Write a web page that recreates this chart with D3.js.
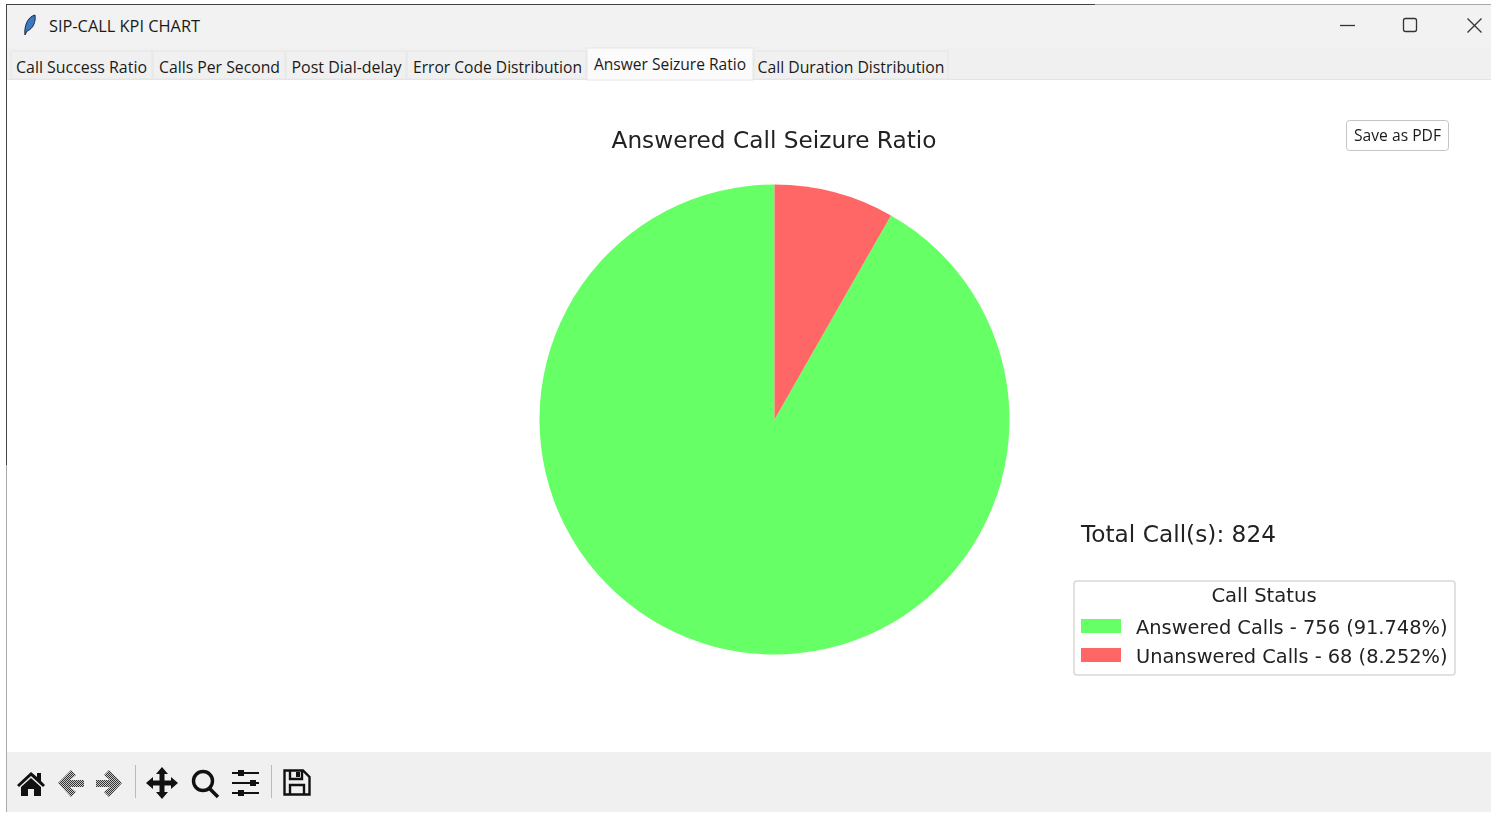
<!DOCTYPE html>
<html>
<head>
<meta charset="utf-8">
<script src="https://cdn.jsdelivr.net/npm/d3@7"></script>
<style>
html, body { margin: 0; padding: 0; background: #fff; overflow: hidden; }
svg { display: block; filter: blur(0.35px); }
.ui { font-family: "Open Sans", "Noto Sans", sans-serif; fill: #1a1a1a; }
.mpl { font-family: "DejaVu Sans", sans-serif; fill: #222; }
</style>
</head>
<body>
<svg width="1491" height="813"></svg>
<script>
var tabNames = ["Call Success Ratio", "Calls Per Second", "Post Dial-delay", "Error Code Distribution", "Answer Seizure Ratio", "Call Duration Distribution"];
var activeTab = "Answer Seizure Ratio";
var statusNames = ["Answered Calls", "Unanswered Calls"];
var statusCounts = [756, 68];
var statusColors = ["#66ff66", "#ff6666"];

// tab geometry
var tabLeft = [11, 153, 286, 407, 587, 754];
var tabRight = [152, 285, 406, 586, 753, 948];
var tabTextLeft = [16, 159, 291.5, 413, 594, 757.5];
var tabTextWidth = [131, 121, 110, 169, 152, 187];

var svg = d3.select("svg"),
    width = +svg.attr("width"),
    height = +svg.attr("height");

var total = d3.sum(statusCounts);

// window chrome
svg.append("rect").attr("x", 7).attr("y", 5).attr("width", width - 7).attr("height", 42).attr("fill", "#f2f2f2");
svg.append("rect").attr("x", 7).attr("y", 47).attr("width", width - 7).attr("height", 33).attr("fill", "#f0f0f0");
svg.append("rect").attr("x", 7).attr("y", 752).attr("width", width - 7).attr("height", 60).attr("fill", "#f0f0f0");
svg.append("line").attr("x1", 7).attr("x2", 1095).attr("y1", 4.5).attr("y2", 4.5).attr("stroke", "#444");
svg.append("line").attr("x1", 1095).attr("x2", width).attr("y1", 4.5).attr("y2", 4.5).attr("stroke", "#aaa");
svg.append("line").attr("x1", 6.5).attr("x2", 6.5).attr("y1", 4).attr("y2", 465).attr("stroke", "#444");
svg.append("line").attr("x1", 6.5).attr("x2", 6.5).attr("y1", 465).attr("y2", 812).attr("stroke", "#aaa");
svg.append("line").attr("x1", 7).attr("x2", width).attr("y1", 79.5).attr("y2", 79.5).attr("stroke", "#e4e4e4");

// feather icon
svg.append("path").attr("d", "M25 35 C24 27 27 17 35 15 C36 22 33 29 27 31 Z").attr("fill", "#3b78c4").attr("stroke", "#1d2b40").attr("stroke-width", 1);

svg.append("text").attr("class", "ui").attr("x", 49).attr("y", 32)
    .attr("font-size", 17).attr("textLength", 151).attr("lengthAdjust", "spacingAndGlyphs")
    .text("SIP-CALL KPI CHART");

// window buttons
svg.append("line").attr("x1", 1340).attr("x2", 1355).attr("y1", 25.5).attr("y2", 25.5).attr("stroke", "#333").attr("stroke-width", 1.3);
svg.append("rect").attr("x", 1403.5).attr("y", 18.5).attr("width", 13).attr("height", 13).attr("rx", 2).attr("fill", "none").attr("stroke", "#333").attr("stroke-width", 1.3);
svg.append("path").attr("d", "M1467.5 18.5 L1481.5 32.5 M1481.5 18.5 L1467.5 32.5").attr("stroke", "#333").attr("stroke-width", 1.3);

// tabs
var tabs = svg.append("g").selectAll("g")
    .data(tabNames)
    .enter().append("g");

tabs.append("rect")
    .attr("x", function(d, i) { return tabLeft[i]; })
    .attr("y", function(d) { return d == activeTab ? 48 : 51; })
    .attr("width", function(d, i) { return tabRight[i] - tabLeft[i]; })
    .attr("height", function(d) { return d == activeTab ? 32 : 28; })
    .attr("fill", function(d) { return d == activeTab ? "#fbfbfb" : "#f0f0f0"; })
    .attr("stroke", "#e6e6e6");

tabs.append("text")
    .attr("class", "ui")
    .attr("x", function(d, i) { return tabTextLeft[i]; })
    .attr("y", function(d) { return d == activeTab ? 70 : 73; })
    .attr("font-size", 17)
    .attr("textLength", function(d, i) { return tabTextWidth[i]; })
    .attr("lengthAdjust", "spacingAndGlyphs")
    .text(function(d) { return d; });

// pie, same direction as the original: from the top, going counterclockwise
var pie = d3.pie().sort(null).startAngle(0).endAngle(-2 * Math.PI);
var arc = d3.arc().innerRadius(0).outerRadius(235);

svg.append("g")
    .attr("transform", "translate(774.5,419.5)")
    .selectAll("path")
    .data(pie(statusCounts))
    .enter().append("path")
    .attr("d", arc)
    .attr("fill", function(d, i) { return statusColors[i]; });

svg.append("text").attr("class", "mpl").attr("x", 774).attr("y", 148)
    .attr("text-anchor", "middle").attr("font-size", 23.5)
    .attr("textLength", 325).attr("lengthAdjust", "spacingAndGlyphs")
    .text("Answered Call Seizure Ratio");

svg.append("text").attr("class", "mpl").attr("x", 1081).attr("y", 542)
    .attr("font-size", 23.5)
    .attr("textLength", 195).attr("lengthAdjust", "spacingAndGlyphs")
    .text("Total Call(s): " + total);

// legend
var legend = svg.append("g");
legend.append("rect")
    .attr("x", 1074).attr("y", 581).attr("width", 381).attr("height", 94).attr("rx", 3)
    .attr("fill", "#fff").attr("stroke", "#d8d8d8").attr("stroke-width", 1.5);
legend.append("text").attr("class", "mpl").attr("x", 1264).attr("y", 602)
    .attr("text-anchor", "middle").attr("font-size", 19.6)
    .text("Call Status");

var rowY = d3.scalePoint().domain(statusNames).range([626, 655]);

legend.selectAll("rect.swatch")
    .data(statusNames)
    .enter().append("rect")
    .attr("class", "swatch")
    .attr("x", 1081)
    .attr("y", function(d) { return rowY(d) - 7; })
    .attr("width", 40)
    .attr("height", 14)
    .attr("fill", function(d, i) { return statusColors[i]; });

legend.selectAll("text.label")
    .data(statusNames)
    .enter().append("text")
    .attr("class", "mpl label")
    .attr("x", 1136)
    .attr("y", function(d) { return rowY(d) + 7.5; })
    .attr("font-size", 19.6)
    .attr("textLength", 311.5)
    .attr("lengthAdjust", "spacingAndGlyphs")
    .text(function(d, i) {
        return d + " - " + statusCounts[i] + " (" + (statusCounts[i] / total * 100).toFixed(3) + "%)";
    });

// save button
svg.append("rect").attr("x", 1346.5).attr("y", 120.5).attr("width", 102).attr("height", 30).attr("rx", 3)
    .attr("fill", "#fff").attr("stroke", "#c4c4c4");
svg.append("text").attr("class", "ui").attr("x", 1354).attr("y", 141)
    .attr("font-size", 17).attr("textLength", 87).attr("lengthAdjust", "spacingAndGlyphs")
    .text("Save as PDF");

// toolbar
var defs = svg.append("defs");
var hatch = defs.append("pattern").attr("id", "dither").attr("width", 2).attr("height", 2).attr("patternUnits", "userSpaceOnUse");
hatch.append("rect").attr("width", 2).attr("height", 2).attr("fill", "#c8c8c8");
hatch.append("rect").attr("width", 1).attr("height", 1).attr("fill", "#333");
hatch.append("rect").attr("x", 1).attr("y", 1).attr("width", 1).attr("height", 1).attr("fill", "#333");

var tools = svg.append("g");
// home
tools.append("path").attr("fill", "#111")
    .attr("d", "M17 785 L31 772 L37 777 L37 773 L41 773 L41 781 L45 785 L43 787 L31 776 L19 787 Z M21 787 L31 778 L41 787 L41 796 L34 796 L34 789 L28 789 L28 796 L21 796 Z");
// back / forward
tools.append("path").attr("fill", "url(#dither)")
    .attr("d", "M58 783 L71 770 L76 775 L70 780 L84 780 L84 787 L70 787 L76 792 L71 797 Z");
tools.append("path").attr("fill", "url(#dither)")
    .attr("d", "M122 783 L109 770 L104 775 L110 780 L96 780 L96 787 L110 787 L104 792 L109 797 Z");
tools.append("line").attr("x1", 135.5).attr("x2", 135.5).attr("y1", 765).attr("y2", 798).attr("stroke", "#bbb");
// move
tools.append("path").attr("fill", "#111")
    .attr("d", "M162 767 L168 774 L164.5 774 L164.5 780.5 L171 780.5 L171 777 L178 783 L171 789 L171 785.5 L164.5 785.5 L164.5 792 L168 792 L162 799 L156 792 L159.5 792 L159.5 785.5 L153 785.5 L153 789 L146 783 L153 777 L153 780.5 L159.5 780.5 L159.5 774 L156 774 Z");
// zoom
tools.append("circle").attr("cx", 203).attr("cy", 781).attr("r", 9.5).attr("fill", "none").attr("stroke", "#111").attr("stroke-width", 3.4);
tools.append("line").attr("x1", 209).attr("y1", 788).attr("x2", 218).attr("y2", 797).attr("stroke", "#111").attr("stroke-width", 3.6);
// sliders
tools.append("path").attr("stroke", "#111").attr("stroke-width", 2).attr("fill", "none")
    .attr("d", "M232 773 H259 M232 783 H259 M232 793 H259");
tools.append("path").attr("fill", "#111")
    .attr("d", "M238 770 h6 v6 h-6 Z M250 780 h6 v6 h-6 Z M238 790 h6 v6 h-6 Z");
tools.append("line").attr("x1", 271.5).attr("x2", 271.5).attr("y1", 765).attr("y2", 798).attr("stroke", "#bbb");
// save
tools.append("path").attr("fill", "none").attr("stroke", "#111").attr("stroke-width", 2.4)
    .attr("d", "M284.5 770.5 H303 L309.5 777 V794.5 H284.5 Z M290 770.5 V779 H302 V770.5 M290 794.5 V785 H304 V794.5");
tools.append("rect").attr("x", 296).attr("y", 772).attr("width", 4).attr("height", 5).attr("fill", "#111");
</script>
</body>
</html>
